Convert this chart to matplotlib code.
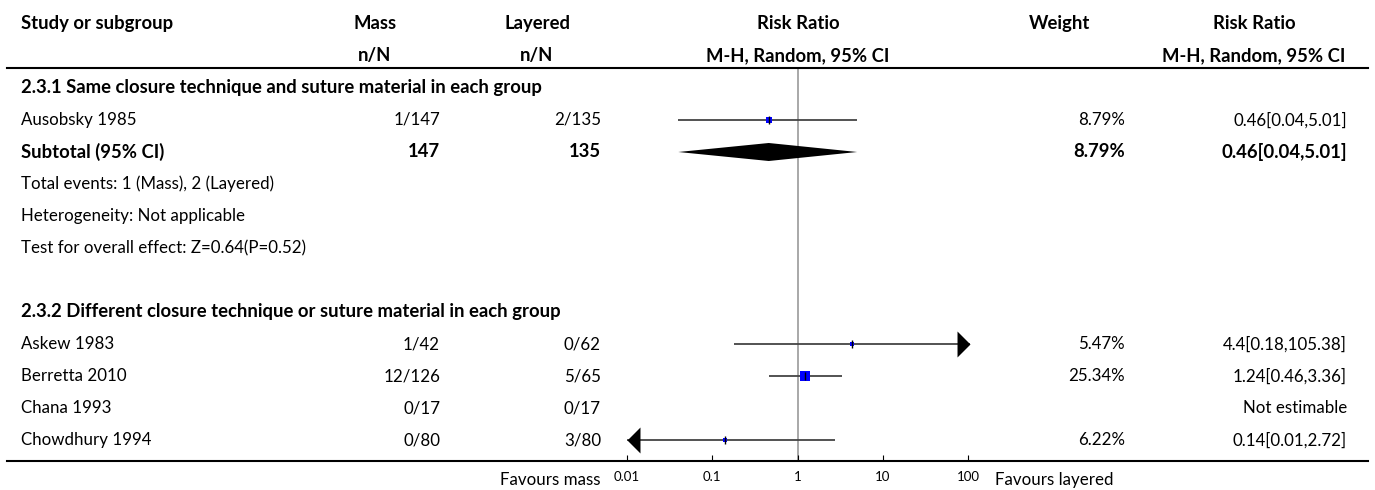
import math
import matplotlib
matplotlib.use('Agg')
import matplotlib.pyplot as plt
from matplotlib.lines import Line2D
from matplotlib.ticker import NullLocator
from matplotlib.transforms import blended_transform_factory

# 2.3.1 Same closure technique and suture material in each group
group1_title = '2.3.1 Same closure technique and suture material in each group'
group1_studies = ['Ausobsky 1985']
group1_mass = ['1/147']
group1_layered = ['2/135']
group1_rr = [0.46]
group1_low = [0.04]
group1_high = [5.01]
group1_weight = [8.79]

subtotal1_mass = 147
subtotal1_layered = 135
subtotal1_rr = 0.46
subtotal1_low = 0.04
subtotal1_high = 5.01
subtotal1_weight = 8.79

group1_notes = ['Total events: 1 (Mass), 2 (Layered)',
                'Heterogeneity: Not applicable',
                'Test for overall effect: Z=0.64(P=0.52)']

# 2.3.2 Different closure technique or suture material in each group
group2_title = '2.3.2 Different closure technique or suture material in each group'
group2_studies = ['Askew 1983', 'Berretta 2010', 'Chana 1993', 'Chowdhury 1994']
group2_mass = ['1/42', '12/126', '0/17', '0/80']
group2_layered = ['0/62', '5/65', '0/17', '3/80']
group2_rr = [4.4, 1.24, None, 0.14]
group2_low = [0.18, 0.46, None, 0.01]
group2_high = [105.38, 3.36, None, 2.72]
group2_weight = [5.47, 25.34, None, 6.22]

axis_ticks = [0.01, 0.1, 1, 10, 100]
axis_labels = ['0.01', '0.1', '1', '10', '100']

plt.rcParams['font.family'] = ['Lato', 'DejaVu Sans']

W, H = 1375, 490
FS = 12.2          # body text
FS_BOLD = 13.3     # bold headings run a little wider
ROW0, ROW_H = 88, 32              # pixel y of the first row and row pitch
AX_LEFT, AX_RIGHT = 627, 968
AX_TOP, AX_BOTTOM = 68, 461
LINE_L, LINE_R = 7, 1368

fig = plt.figure(figsize=(W / 100, H / 100), dpi=100)
ax = fig.add_axes([AX_LEFT / W, 1 - AX_BOTTOM / H,
                   (AX_RIGHT - AX_LEFT) / W, (AX_BOTTOM - AX_TOP) / H])
ax.set_xscale('log')
ax.set_xlim(axis_ticks[0], axis_ticks[-1])
ax.set_ylim((AX_BOTTOM - ROW0) / ROW_H, (AX_TOP - ROW0) / ROW_H)
for s in ax.spines.values():
    s.set_visible(False)
ax.set_yticks([])
ax.set_xticks(axis_ticks, axis_labels)
ax.xaxis.set_minor_locator(NullLocator())
ax.tick_params(axis='x', direction='in', length=4.5, width=0.8, labelsize=9.5, pad=7)
ax.patch.set_alpha(0)
ax.axvline(1, color='#9a9a9a', lw=1.2, zorder=0)

trans = blended_transform_factory(fig.transFigure, ax.transData)


def put(x, row, s, ha='left', bold=False):
    fig.text(x / W, row, s, transform=trans, ha=ha, va='center',
             fontsize=FS_BOLD if bold else FS,
             fontweight='bold' if bold else 'normal', color='black')


def hline(y):
    fig.add_artist(Line2D([LINE_L / W, LINE_R / W], [1 - y / H] * 2, color='black', lw=1.5))


ARROW_R = [(0, 0), (-1, 1), (-1, -1), (0, 0)]
ARROW_L = [(0, 0), (1, 1), (1, -1), (0, 0)]


def draw_study(row, rr, lo, hi, w):
    ax.plot([lo, hi], [row, row], color='#444444', lw=1.3, clip_on=False,
            solid_capstyle='butt', zorder=2)
    side = 1.9 * math.sqrt(w) * 0.72
    ax.plot(rr, row, marker='s', ms=side, color='#0000ff', mec='#0000ff', mew=0,
            clip_on=False, zorder=3)
    ax.plot(rr, row, marker='|', ms=5.5, mew=1, color='black', clip_on=False, zorder=4)
    if hi > axis_ticks[-1]:
        ax.plot(hi, row, marker=ARROW_R, ms=18.7, color='black', mew=0, clip_on=False, zorder=3)
    if lo <= axis_ticks[0]:
        ax.plot(lo, row, marker=ARROW_L, ms=18.7, color='black', mew=0, clip_on=False, zorder=3)


# column headers
put(21, -2, 'Study or subgroup', bold=True)
put(375, -2, 'Mass', ha='center', bold=True)
put(375, -1, 'n/N', ha='center', bold=True)
put(537, -2, 'Layered', ha='center', bold=True)
put(537, -1, 'n/N', ha='center', bold=True)
put(798, -2, 'Risk Ratio', ha='center', bold=True)
put(798, -1, 'M-H, Random, 95% CI', ha='center', bold=True)
put(1060, -2, 'Weight', ha='center', bold=True)
put(1254, -2, 'Risk Ratio', ha='center', bold=True)
put(1254, -1, 'M-H, Random, 95% CI', ha='center', bold=True)
hline(AX_TOP)

row = 0
put(21, row, group1_title, bold=True)
row += 1
for i, name in enumerate(group1_studies):
    put(21, row, name)
    put(440, row, group1_mass[i], ha='right')
    put(601, row, group1_layered[i], ha='right')
    put(1125, row, f'{group1_weight[i]:.2f}%', ha='right')
    put(1347, row, f'{group1_rr[i]}[{group1_low[i]},{group1_high[i]}]', ha='right')
    draw_study(row, group1_rr[i], group1_low[i], group1_high[i], group1_weight[i])
    row += 1

put(21, row, 'Subtotal (95% CI)', bold=True)
put(440, row, str(subtotal1_mass), ha='right', bold=True)
put(601, row, str(subtotal1_layered), ha='right', bold=True)
put(1125, row, f'{subtotal1_weight:.2f}%', ha='right', bold=True)
put(1347, row, f'{subtotal1_rr}[{subtotal1_low},{subtotal1_high}]', ha='right', bold=True)
dh = 9 / ROW_H
ax.fill([subtotal1_low, subtotal1_rr, subtotal1_high, subtotal1_rr],
        [row, row - dh, row, row + dh], color='black', lw=0, clip_on=False, zorder=3)
row += 1

for note in group1_notes:
    put(21, row, note)
    row += 1
row += 1

put(21, row, group2_title, bold=True)
row += 1
for i, name in enumerate(group2_studies):
    put(21, row, name)
    put(440, row, group2_mass[i], ha='right')
    put(601, row, group2_layered[i], ha='right')
    if group2_rr[i] is None:
        put(1347, row, 'Not estimable', ha='right')
    else:
        put(1125, row, f'{group2_weight[i]:.2f}%', ha='right')
        put(1347, row, f'{group2_rr[i]}[{group2_low[i]},{group2_high[i]}]', ha='right')
        draw_study(row, group2_rr[i], group2_low[i], group2_high[i], group2_weight[i])
    row += 1

hline(AX_BOTTOM)
fig.text(600 / W, 1 - 480 / H, 'Favours mass', ha='right', va='center', fontsize=FS)
fig.text(995 / W, 1 - 480 / H, 'Favours layered', ha='left', va='center', fontsize=FS)

fig.savefig('out.png', dpi=100)
